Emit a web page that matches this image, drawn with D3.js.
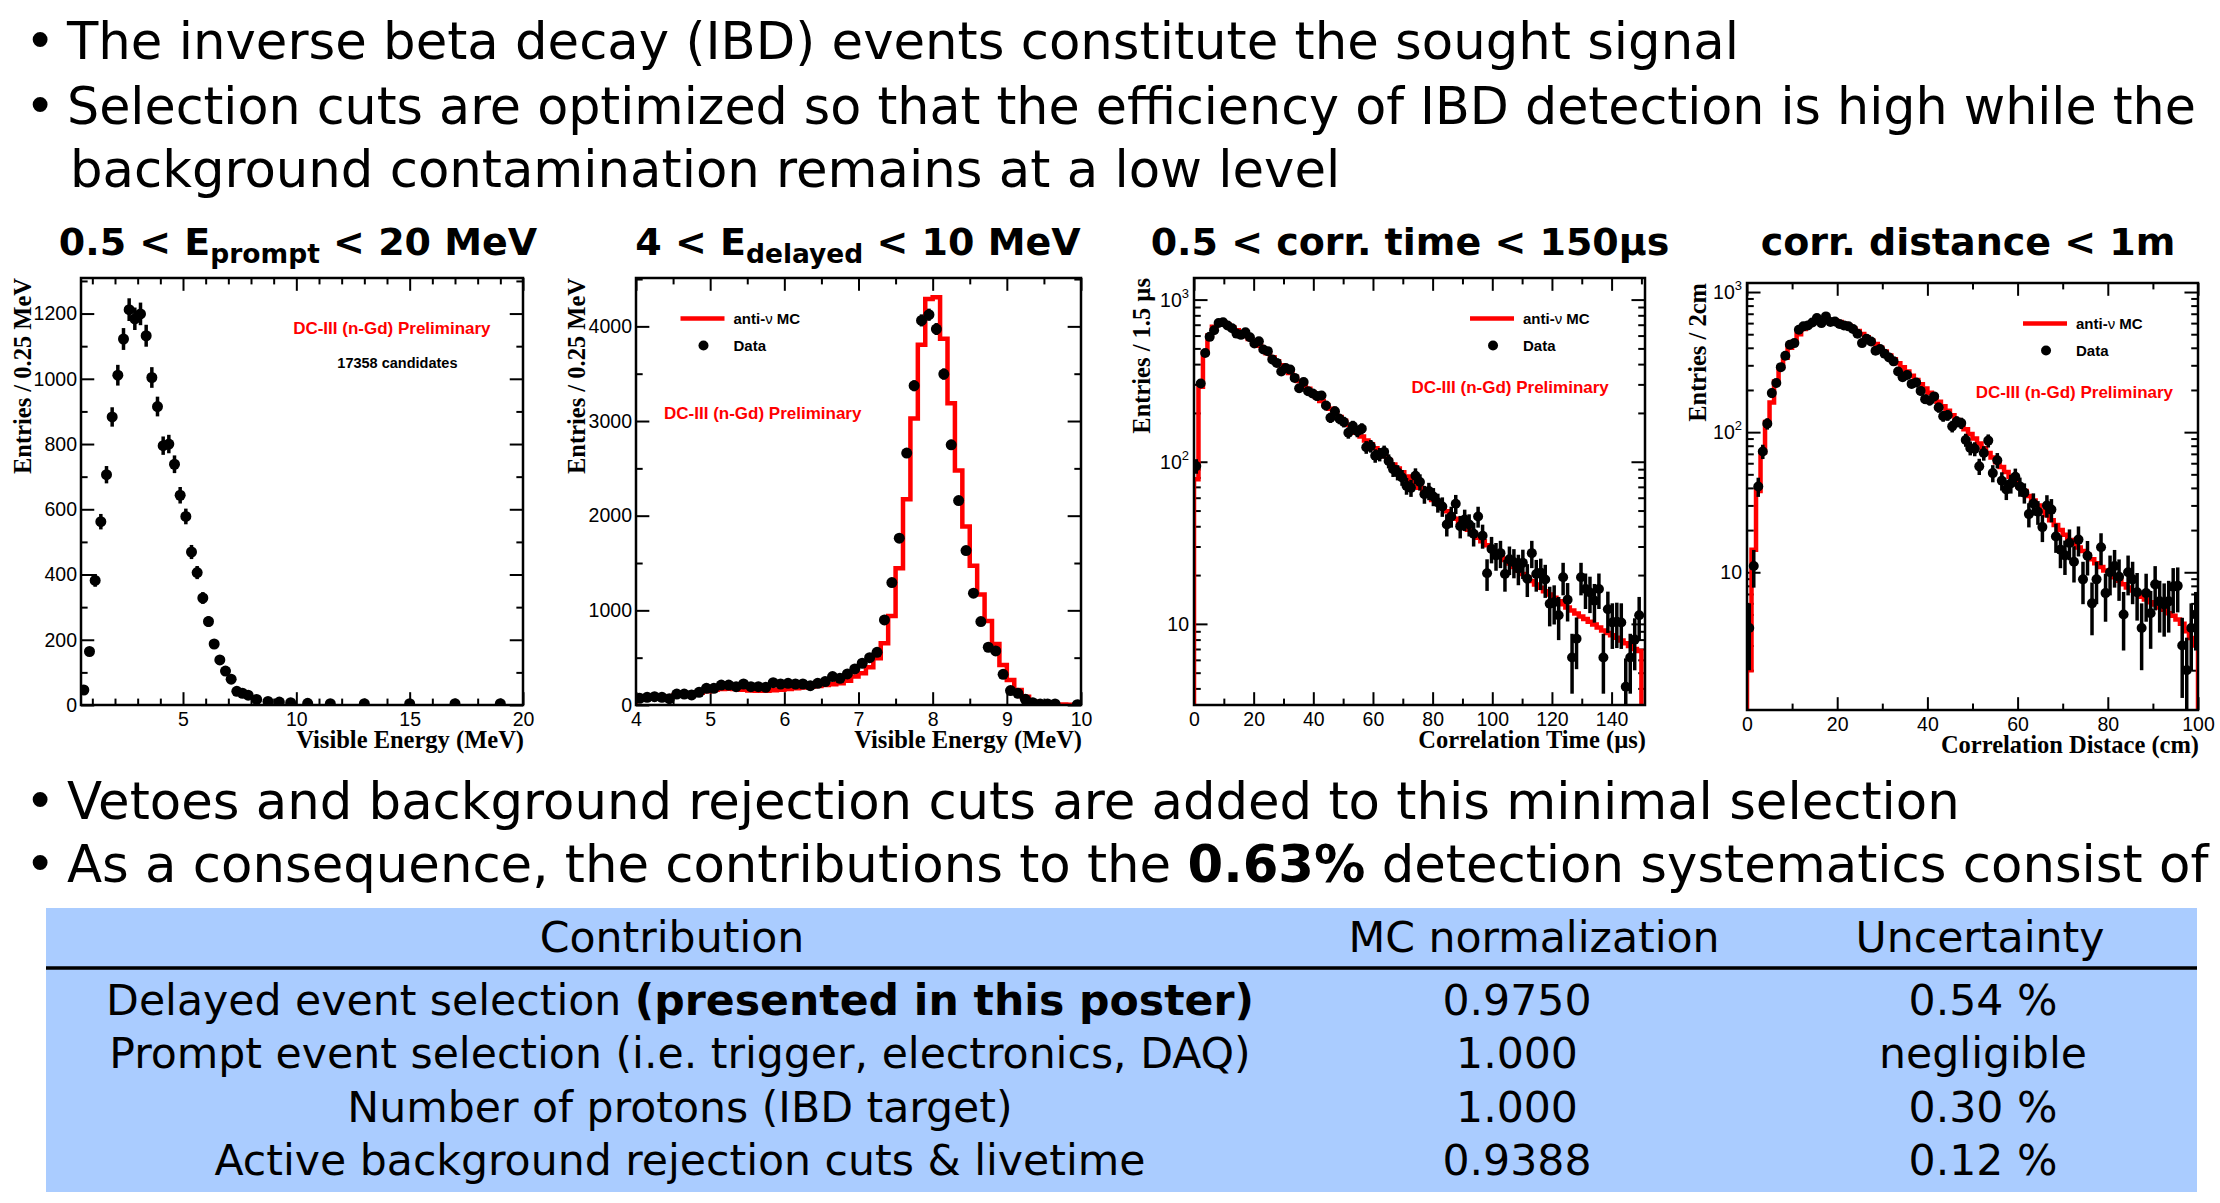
<!DOCTYPE html>
<html>
<head>
<meta charset="utf-8">
<script src="https://d3js.org/d3.v7.min.js"></script>
<style>
  body { margin: 0; background: #ffffff; }
  svg { display: block; }
</style>
</head>
<body>
<script>
// ---- slide text ----
var bulletsTop = [
  "The inverse beta decay (IBD) events constitute the sought signal",
  "Selection cuts are optimized so that the efficiency of IBD detection is high while the",
  "background contamination remains at a low level"
];
var panelTitles = [
  ["0.5 < E", "prompt", " < 20 MeV"],
  ["4 < E", "delayed", " < 10 MeV"],
  ["0.5 < corr. time < 150µs"],
  ["corr. distance < 1m"]
];
var bulletsBottom = [
  [["Vetoes and background rejection cuts are added to this minimal selection", false]],
  [["As a consequence, the contributions to the ", false], ["0.63%", true], [" detection systematics consist of", false]]
];

// ---- table ----
var tableHeader = ["Contribution", "MC normalization", "Uncertainty"];
var contributions = [
  [["Delayed event selection ", false], ["(presented in this poster)", true]],
  [["Prompt event selection (i.e. trigger, electronics, DAQ)", false]],
  [["Number of protons (IBD target)", false]],
  [["Active background rejection cuts & livetime", false]]
];
var mcNormalization = ["0.9750", "1.000", "1.000", "0.9388"];
var uncertainties = ["0.54 %", "negligible", "0.30 %", "0.12 %"];

// ---- panel 1: prompt energy (variable bins) ----
var promptCenters = [0.625, 0.875, 1.125, 1.375, 1.625, 1.875, 2.125, 2.375, 2.625, 2.875,
  3.125, 3.375, 3.625, 3.875, 4.125, 4.375, 4.625, 4.875, 5.125, 5.375,
  5.625, 5.875, 6.125, 6.375, 6.625, 6.875, 7.125, 7.375, 7.625, 7.875,
  8.25, 8.75, 9.25, 9.75, 10.5, 11.5, 13, 15, 17, 19];
var promptCounts = [46, 164, 382, 562, 706, 883, 1011, 1122, 1212, 1184,
  1199, 1132, 1004, 915, 795, 800, 738, 643, 578, 469,
  406, 328, 256, 187, 138, 104, 79, 42, 36, 30,
  17, 11, 9, 7, 5, 4, 4, 4, 4, 4];

// ---- panel 2: delayed energy, 0.1 MeV bins from 4 to 10 ----
var delayedData = [70, 81, 88, 81, 67, 116, 116, 106, 134, 176,
  176, 211, 211, 194, 222, 194, 194, 187, 236, 222,
  229, 222, 222, 204, 229, 247, 300, 282, 328, 381,
  441, 500, 557, 899, 1293, 1762, 2661, 3373, 4063, 4123,
  3972, 3496, 2749, 2160, 1632, 1181, 881, 610, 571, 324,
  152, 123, 60, 25, 11, 11, 11, null, null, 3];
var delayedMC = [75, 78, 82, 86, 90, 100, 108, 118, 130, 145,
  160, 170, 172, 168, 160, 153, 150, 150, 155, 162,
  170, 178, 185, 192, 200, 210, 220, 229, 257, 300,
  335, 398, 493, 652, 941, 1445, 2174, 3027, 3806, 4289,
  4307, 3870, 3189, 2478, 1885, 1470, 1167, 888, 645, 423,
  264, 159, 88, 35, 18, 10, 6, 4, 3, 2];

// ---- panel 3: correlation time, 1.5 us bins from 0 to 150 ----
var timeData = [94, 304, 469, 589, 647, 718, 725, 692, 666, 617,
  606, 629, 586, 536, 553, 492, 481, 427, 407, 360,
  379, 370, 329, 284, 310, 272, 264, 254, 256, 222,
  187, 205, 184, 176, 151, 166, 154, 160, 123, 125,
  109, 111, 115, 101, 90, 86, 80, 71, 69, 82,
  75, 63, 66, 61, 56, 53, 41, 46, 55, 40,
  44, 41, 36, 46, 35, 20.5, 29, 26.4, 27.3, 20.3,
  25, 24, 22, 23.8, 19, 27.3, 20.3, 20.7, 18.8, 13.3,
  13.6, 11.3, 19.4, 14.1, 6.2, 8.1, 19.4, 16.4, 15.6, 13.9,
  16.4, 6.2, 12.3, 10.2, 10.3, 10.2, 4.1, 6.2, 8, 11.3];
var timeMC = [78, 290, 470, 600, 680, 715, 720, 700, 675, 648,
  622, 596, 571, 547, 520, 492, 466, 441, 417, 394,
  372, 352, 333, 315, 298, 282, 266, 251, 237, 224,
  212, 200, 189, 179, 169, 160, 151, 143, 135, 128,
  121, 114, 108, 102, 96, 91, 86, 81, 77, 73,
  69, 65, 62, 58, 55, 52, 49.5, 47, 44.5, 42,
  40, 38, 36, 34, 32.3, 30.6, 29, 27.5, 26.1, 24.8,
  23.6, 22.4, 21.3, 20.3, 19.3, 18.4, 17.5, 16.7, 15.9, 15.2,
  14.5, 13.8, 13.2, 12.6, 12.1, 11.6, 11.1, 10.7, 10.3, 9.9,
  9.5, 9.1, 8.8, 8.5, 8.2, 7.9, 7.6, 7.3, 7.0, 6.8];

// ---- panel 4: correlation distance, 1 cm bins from 0 to 100 ----
var distData = [4.0, 11.1, 40.9, 72.8, 115, 190, 224, 291, 351, 421,
  432, 538, 569, 578, 607, 652, 600, 670, 611, 617,
  591, 578, 569, 544, 504, 432, 464, 444, 381, 392,
  363, 341, 320, 271, 247, 256, 221, 226, 197, 172,
  168, 180, 150, 130, 132, 110, 119, 116, 88, 77,
  76, 57, 71, 87, 51, 63, 45, 39, 43, 48,
  41, 37, 26, 31, 27, 21, 30, 28, 18, 14.5,
  13.2, 16.2, 11.9, 17.1, 8.9, 13.1, 6.0, 8.9, 15.1, 7.1,
  10.0, 11.1, 9.3, 5.0, 10.0, 8.9, 7.2, 4.0, 7.1, 5.1,
  8.2, 6.2, 5.9, 6.2, 7.9, 8.0, 3.0, 2.0, 4.0, 5.0];
var distMC = [2.0, 14.5, 38, 72, 118, 163, 230, 290, 340, 400,
  440, 500, 545, 580, 605, 620, 630, 635, 632, 625,
  610, 595, 575, 552, 528, 502, 476, 450, 425, 400,
  376, 353, 331, 310, 290, 271, 253, 236, 220, 205,
  191, 178, 165, 153, 142, 132, 122, 113, 105, 97,
  90, 83, 77, 71, 66, 61, 56.5, 52, 48, 44.5,
  41, 38, 35, 32.5, 30, 27.5, 25.5, 23.5, 21.7, 20,
  18.5, 17, 16.0, 15.0, 14.2, 13.3, 12.4, 11.6, 10.9, 10.3,
  9.8, 9.2, 8.7, 8.2, 7.8, 7.4, 7.0, 6.7, 6.4, 6.1,
  5.9, 5.6, 5.4, 5.1, 4.9, 4.6, 4.3, 3.8, 3.4, 3.0];

// ---- fonts ----
var slideFont = "'DejaVu Sans', sans-serif";
var rootFont = "'Liberation Sans', Arial, Helvetica, sans-serif";
var serifFont = "'Liberation Serif', 'Times New Roman', serif";
var red = "#ff0000";
var bulletSize = 51.3, tableSize = 42.6;

var svg = d3.select("body")
            .append("svg")
            .attr("width", 2220)
            .attr("height", 1203);

// Write a line made of [text, bold] parts
function addParts(textSel, parts) {
  parts.forEach(function(p) {
    textSel.append("tspan")
           .text(p[0])
           .attr("font-weight", p[1] ? "bold" : "normal");
  });
}

// Top bullets (the long second line is a touch smaller so it stays on the slide)
var topY = [59, 124, 187];
var topSize = [bulletSize, 50.7, bulletSize];
bulletsTop.forEach(function(line, i) {
  if (i < 2) {
    svg.append("text").text("•")
       .attr("x", 25).attr("y", topY[i])
       .attr("font-family", slideFont).attr("font-size", bulletSize);
  }
  svg.append("text").text(line)
     .attr("x", i < 2 ? 67 : 70).attr("y", topY[i])
     .attr("font-family", slideFont).attr("font-size", topSize[i]);
});

// Panel titles
var titleX = [298, 858, 1410, 1968];
panelTitles.forEach(function(t, i) {
  var txt = svg.append("text")
               .attr("x", titleX[i]).attr("y", 255)
               .attr("text-anchor", "middle")
               .attr("font-family", slideFont)
               .attr("font-weight", "bold")
               .attr("font-size", 38);
  txt.append("tspan").text(t[0]);
  if (t.length > 1) {
    txt.append("tspan").text(t[1]).attr("font-size", 26.5).attr("dy", 8);
    txt.append("tspan").text(t[2]).attr("dy", -8);
  }
});

// ---- one ROOT style histogram panel ----
function drawPanel(p, idx) {
  var g = svg.append("g");
  var x = d3.scaleLinear().domain(p.xDomain).range([p.left, p.right]);
  var y = (p.log ? d3.scaleLog() : d3.scaleLinear())
            .domain(p.yDomain).range([p.bottom, p.top]);
  var w = p.right - p.left, h = p.bottom - p.top;
  var majorX = 0.03 * h, majorY = 0.03 * w;

  g.append("clipPath").attr("id", "clip" + idx)
   .append("rect").attr("x", p.left).attr("y", p.top)
   .attr("width", w).attr("height", h);

  // ticks on all four sides, pointing inwards
  function tickAxis(axis, vals, len, transform, fmt) {
    var a = axis.tickValues(vals).tickSizeInner(-len).tickSizeOuter(0)
                .tickPadding(fmt ? 5 : 0)
                .tickFormat(fmt || function() { return ""; });
    var ag = g.append("g").attr("transform", transform).call(a);
    ag.select(".domain").remove();
    ag.selectAll("line").attr("stroke", "#000").attr("stroke-width", 2);
    ag.selectAll("text").attr("font-family", rootFont).attr("font-size", 19.5)
      .attr("fill", "#000");
    return ag;
  }
  var bx = tickAxis(d3.axisBottom(x), p.xMajor, majorX, "translate(0," + p.bottom + ")", String);
  bx.selectAll("text").attr("y", 7);
  tickAxis(d3.axisBottom(x), p.xMinor, majorX / 2, "translate(0," + p.bottom + ")");
  tickAxis(d3.axisTop(x), p.xMajor, majorX, "translate(0," + p.top + ")");
  tickAxis(d3.axisTop(x), p.xMinor, majorX / 2, "translate(0," + p.top + ")");
  var ly = tickAxis(d3.axisLeft(y), p.yMajor, majorY, "translate(" + p.left + ",0)",
                    p.log ? function() { return ""; } : String);
  ly.selectAll("text").attr("x", -4);
  tickAxis(d3.axisLeft(y), p.yMinor, majorY / 2, "translate(" + p.left + ",0)");
  tickAxis(d3.axisRight(y), p.yMajor, majorY, "translate(" + p.right + ",0)");
  tickAxis(d3.axisRight(y), p.yMinor, majorY / 2, "translate(" + p.right + ",0)");

  // log labels as 10^n
  if (p.log) {
    var lab = g.selectAll("text.loglab").data(p.yMajor).enter()
               .append("text")
               .attr("class", "loglab")
               .attr("x", p.left - 5)
               .attr("y", function(d) { return y(d) + 7; })
               .attr("text-anchor", "end")
               .attr("font-family", rootFont).attr("font-size", 19.5);
    lab.append("tspan").text("10");
    lab.filter(function(d) { return d > 10; })
       .append("tspan").text(function(d) { return d >= 1000 ? "3" : "2"; })
       .attr("font-size", 13).attr("dy", -9);
  }

  // MC step histogram
  if (p.mc) {
    var pts = [[p.edges[0], p.yDomain[0]]];
    p.mc.forEach(function(v, i) {
      pts.push([p.edges[i], v]);
      pts.push([p.edges[i + 1], v]);
    });
    pts.push([p.edges[p.mc.length], p.yDomain[0]]);
    g.append("path")
     .attr("clip-path", "url(#clip" + idx + ")")
     .attr("d", d3.line()
                  .x(function(d) { return x(d[0]); })
                  .y(function(d) { return y(Math.max(d[1], p.yDomain[0])); })(pts))
     .attr("fill", "none").attr("stroke", red).attr("stroke-width", 4.5);
  }

  // data points with sqrt(N) errors
  var pts2 = p.centers.map(function(c, i) { return {x: c, v: p.data[i]}; })
                      .filter(function(d) { return d.v !== null; });
  var dg = g.append("g").attr("clip-path", "url(#clip" + idx + ")");
  dg.selectAll("line.err").data(pts2).enter()
    .append("line").attr("class", "err")
    .attr("x1", function(d) { return x(d.x); })
    .attr("x2", function(d) { return x(d.x); })
    .attr("y1", function(d) { return y(Math.max(d.v - Math.sqrt(d.v), p.yDomain[0])); })
    .attr("y2", function(d) { return y(d.v + Math.sqrt(d.v)); })
    .attr("stroke", "#000").attr("stroke-width", 3.5);
  dg.selectAll("circle").data(pts2).enter()
    .append("circle")
    .attr("cx", function(d) { return x(d.x); })
    .attr("cy", function(d) { return y(d.v); })
    .attr("r", p.r).attr("fill", "#000");

  // frame
  g.append("rect").attr("x", p.left).attr("y", p.top)
   .attr("width", w).attr("height", h)
   .attr("fill", "none").attr("stroke", "#000").attr("stroke-width", 2.5);

  // axis titles
  g.append("text").text(p.xTitle)
   .attr("x", p.right + 1).attr("y", p.bottom + 43)
   .attr("text-anchor", "end")
   .attr("font-family", serifFont).attr("font-weight", "bold").attr("font-size", 24.5);
  g.append("text").text(p.yTitle)
   .attr("transform", "translate(" + (p.left - p.yTitleOff) + "," + p.top + ") rotate(-90)")
   .attr("text-anchor", "end")
   .attr("font-family", serifFont).attr("font-weight", "bold").attr("font-size", 24.5);

  // labels in the pad
  g.append("text").text("DC-III (n-Gd) Preliminary")
   .attr("x", p.left + p.tag[0] * w).attr("y", p.top + p.tag[1] * h)
   .attr("font-family", rootFont).attr("font-weight", "bold")
   .attr("font-size", 17).attr("fill", red);
  if (p.note) {
    g.append("text").text(p.note)
     .attr("x", p.left + p.noteAt[0] * w).attr("y", p.top + p.noteAt[1] * h)
     .attr("font-family", rootFont).attr("font-weight", "bold").attr("font-size", 14.5);
  }
  if (p.legend) {
    var lx = p.left + p.legend[0] * w, lyy = p.top + p.legend[1] * h;
    g.append("line").attr("x1", lx).attr("x2", lx + 44)
     .attr("y1", lyy).attr("y2", lyy)
     .attr("stroke", red).attr("stroke-width", 4.5);
    var t1 = g.append("text").attr("x", lx + 53).attr("y", lyy + 5)
              .attr("font-family", rootFont).attr("font-weight", "bold").attr("font-size", 15);
    t1.append("tspan").text("anti-");
    t1.append("tspan").text("ν").attr("font-weight", "normal");
    t1.append("tspan").text(" MC");
    g.append("circle").attr("cx", lx + 23).attr("cy", lyy + 27).attr("r", 5).attr("fill", "#000");
    g.append("text").text("Data").attr("x", lx + 53).attr("y", lyy + 32)
     .attr("font-family", rootFont).attr("font-weight", "bold").attr("font-size", 15);
  }
}

var panels = [
  {left: 81, right: 523, top: 278, bottom: 705,
   xDomain: [0.5, 20], yDomain: [0, 1309],
   xMajor: [5, 10, 15, 20], xMinor: d3.range(1, 20).filter(function(v) { return v % 5; }),
   yMajor: d3.range(0, 1201, 200), yMinor: d3.range(100, 1301, 200),
   centers: promptCenters, data: promptCounts, r: 5.5,
   xTitle: "Visible Energy (MeV)", yTitle: "Entries / 0.25 MeV", yTitleOff: 50,
   tag: [0.48, 0.13], note: "17358 candidates", noteAt: [0.58, 0.21]},
  {left: 636, right: 1081, top: 278, bottom: 705,
   xDomain: [4, 10], yDomain: [0, 4511],
   xMajor: d3.range(4, 11), xMinor: d3.range(4.5, 10, 1),
   yMajor: d3.range(0, 4001, 1000), yMinor: d3.range(500, 4501, 1000),
   centers: d3.range(60).map(function(i) { return 4.05 + i * 0.1; }),
   edges: d3.range(61).map(function(i) { return 4 + i * 0.1; }),
   data: delayedData, mc: delayedMC, r: 5.5,
   xTitle: "Visible Energy (MeV)", yTitle: "Entries / 0.25 MeV", yTitleOff: 51,
   tag: [0.063, 0.33], legend: [0.1, 0.095]},
  {left: 1194, right: 1645, top: 278, bottom: 705,
   xDomain: [0, 151.2], yDomain: [3.16, 1359], log: true,
   xMajor: d3.range(0, 141, 20), xMinor: d3.range(10, 151, 20),
   yMajor: [10, 100, 1000],
   yMinor: [4, 5, 6, 7, 8, 9, 20, 30, 40, 50, 60, 70, 80, 90, 200, 300, 400, 500, 600, 700, 800, 900],
   centers: d3.range(100).map(function(i) { return 0.75 + i * 1.5; }),
   edges: d3.range(101).map(function(i) { return i * 1.5; }),
   data: timeData, mc: timeMC, r: 5,
   xTitle: "Correlation Time (µs)", yTitle: "Entries / 1.5 µs", yTitleOff: 44,
   tag: [0.482, 0.27], legend: [0.612, 0.095]},
  {left: 1747, right: 2198, top: 283, bottom: 710,
   xDomain: [0, 100], yDomain: [1.04, 1160], log: true,
   xMajor: d3.range(0, 101, 20), xMinor: d3.range(10, 100, 20),
   yMajor: [10, 100, 1000],
   yMinor: [2, 3, 4, 5, 6, 7, 8, 9, 20, 30, 40, 50, 60, 70, 80, 90, 200, 300, 400, 500, 600, 700, 800, 900],
   centers: d3.range(100).map(function(i) { return 0.5 + i; }),
   edges: d3.range(101),
   data: distData, mc: distMC, r: 5,
   xTitle: "Correlation Distace (cm)", yTitle: "Entries / 2cm", yTitleOff: 41,
   tag: [0.507, 0.27], legend: [0.612, 0.095]}
];
panels.forEach(drawPanel);

// Bottom bullets
var bottomY = [819, 882];
bulletsBottom.forEach(function(parts, i) {
  svg.append("text").text("•")
     .attr("x", 25).attr("y", bottomY[i])
     .attr("font-family", slideFont).attr("font-size", bulletSize);
  var t = svg.append("text").attr("x", 67).attr("y", bottomY[i])
             .attr("font-family", slideFont).attr("font-size", bulletSize);
  addParts(t, parts);
});

// Table
var colX = [676, 1517, 1983];
svg.append("rect").attr("x", 46).attr("y", 908)
   .attr("width", 2151).attr("height", 284).attr("fill", "#aaccff");
tableHeader.forEach(function(hd, i) {
  svg.append("text").text(hd)
     .attr("x", i == 1 ? 1534 : (i == 0 ? 672 : 1980)).attr("y", 952)
     .attr("text-anchor", "middle")
     .attr("font-family", slideFont).attr("font-size", tableSize);
});
svg.append("line").attr("x1", 46).attr("x2", 2197)
   .attr("y1", 968).attr("y2", 968)
   .attr("stroke", "#000").attr("stroke-width", 3.5);
var rowY = [1015, 1068, 1122, 1175];
contributions.forEach(function(parts, i) {
  var t = svg.append("text").attr("x", colX[0] + 4).attr("y", rowY[i])
             .attr("text-anchor", "middle")
             .attr("font-family", slideFont).attr("font-size", tableSize);
  addParts(t, parts);
  svg.append("text").text(mcNormalization[i])
     .attr("x", colX[1]).attr("y", rowY[i]).attr("text-anchor", "middle")
     .attr("font-family", slideFont).attr("font-size", tableSize);
  svg.append("text").text(uncertainties[i])
     .attr("x", colX[2]).attr("y", rowY[i]).attr("text-anchor", "middle")
     .attr("font-family", slideFont).attr("font-size", tableSize);
});
</script>
</body>
</html>
